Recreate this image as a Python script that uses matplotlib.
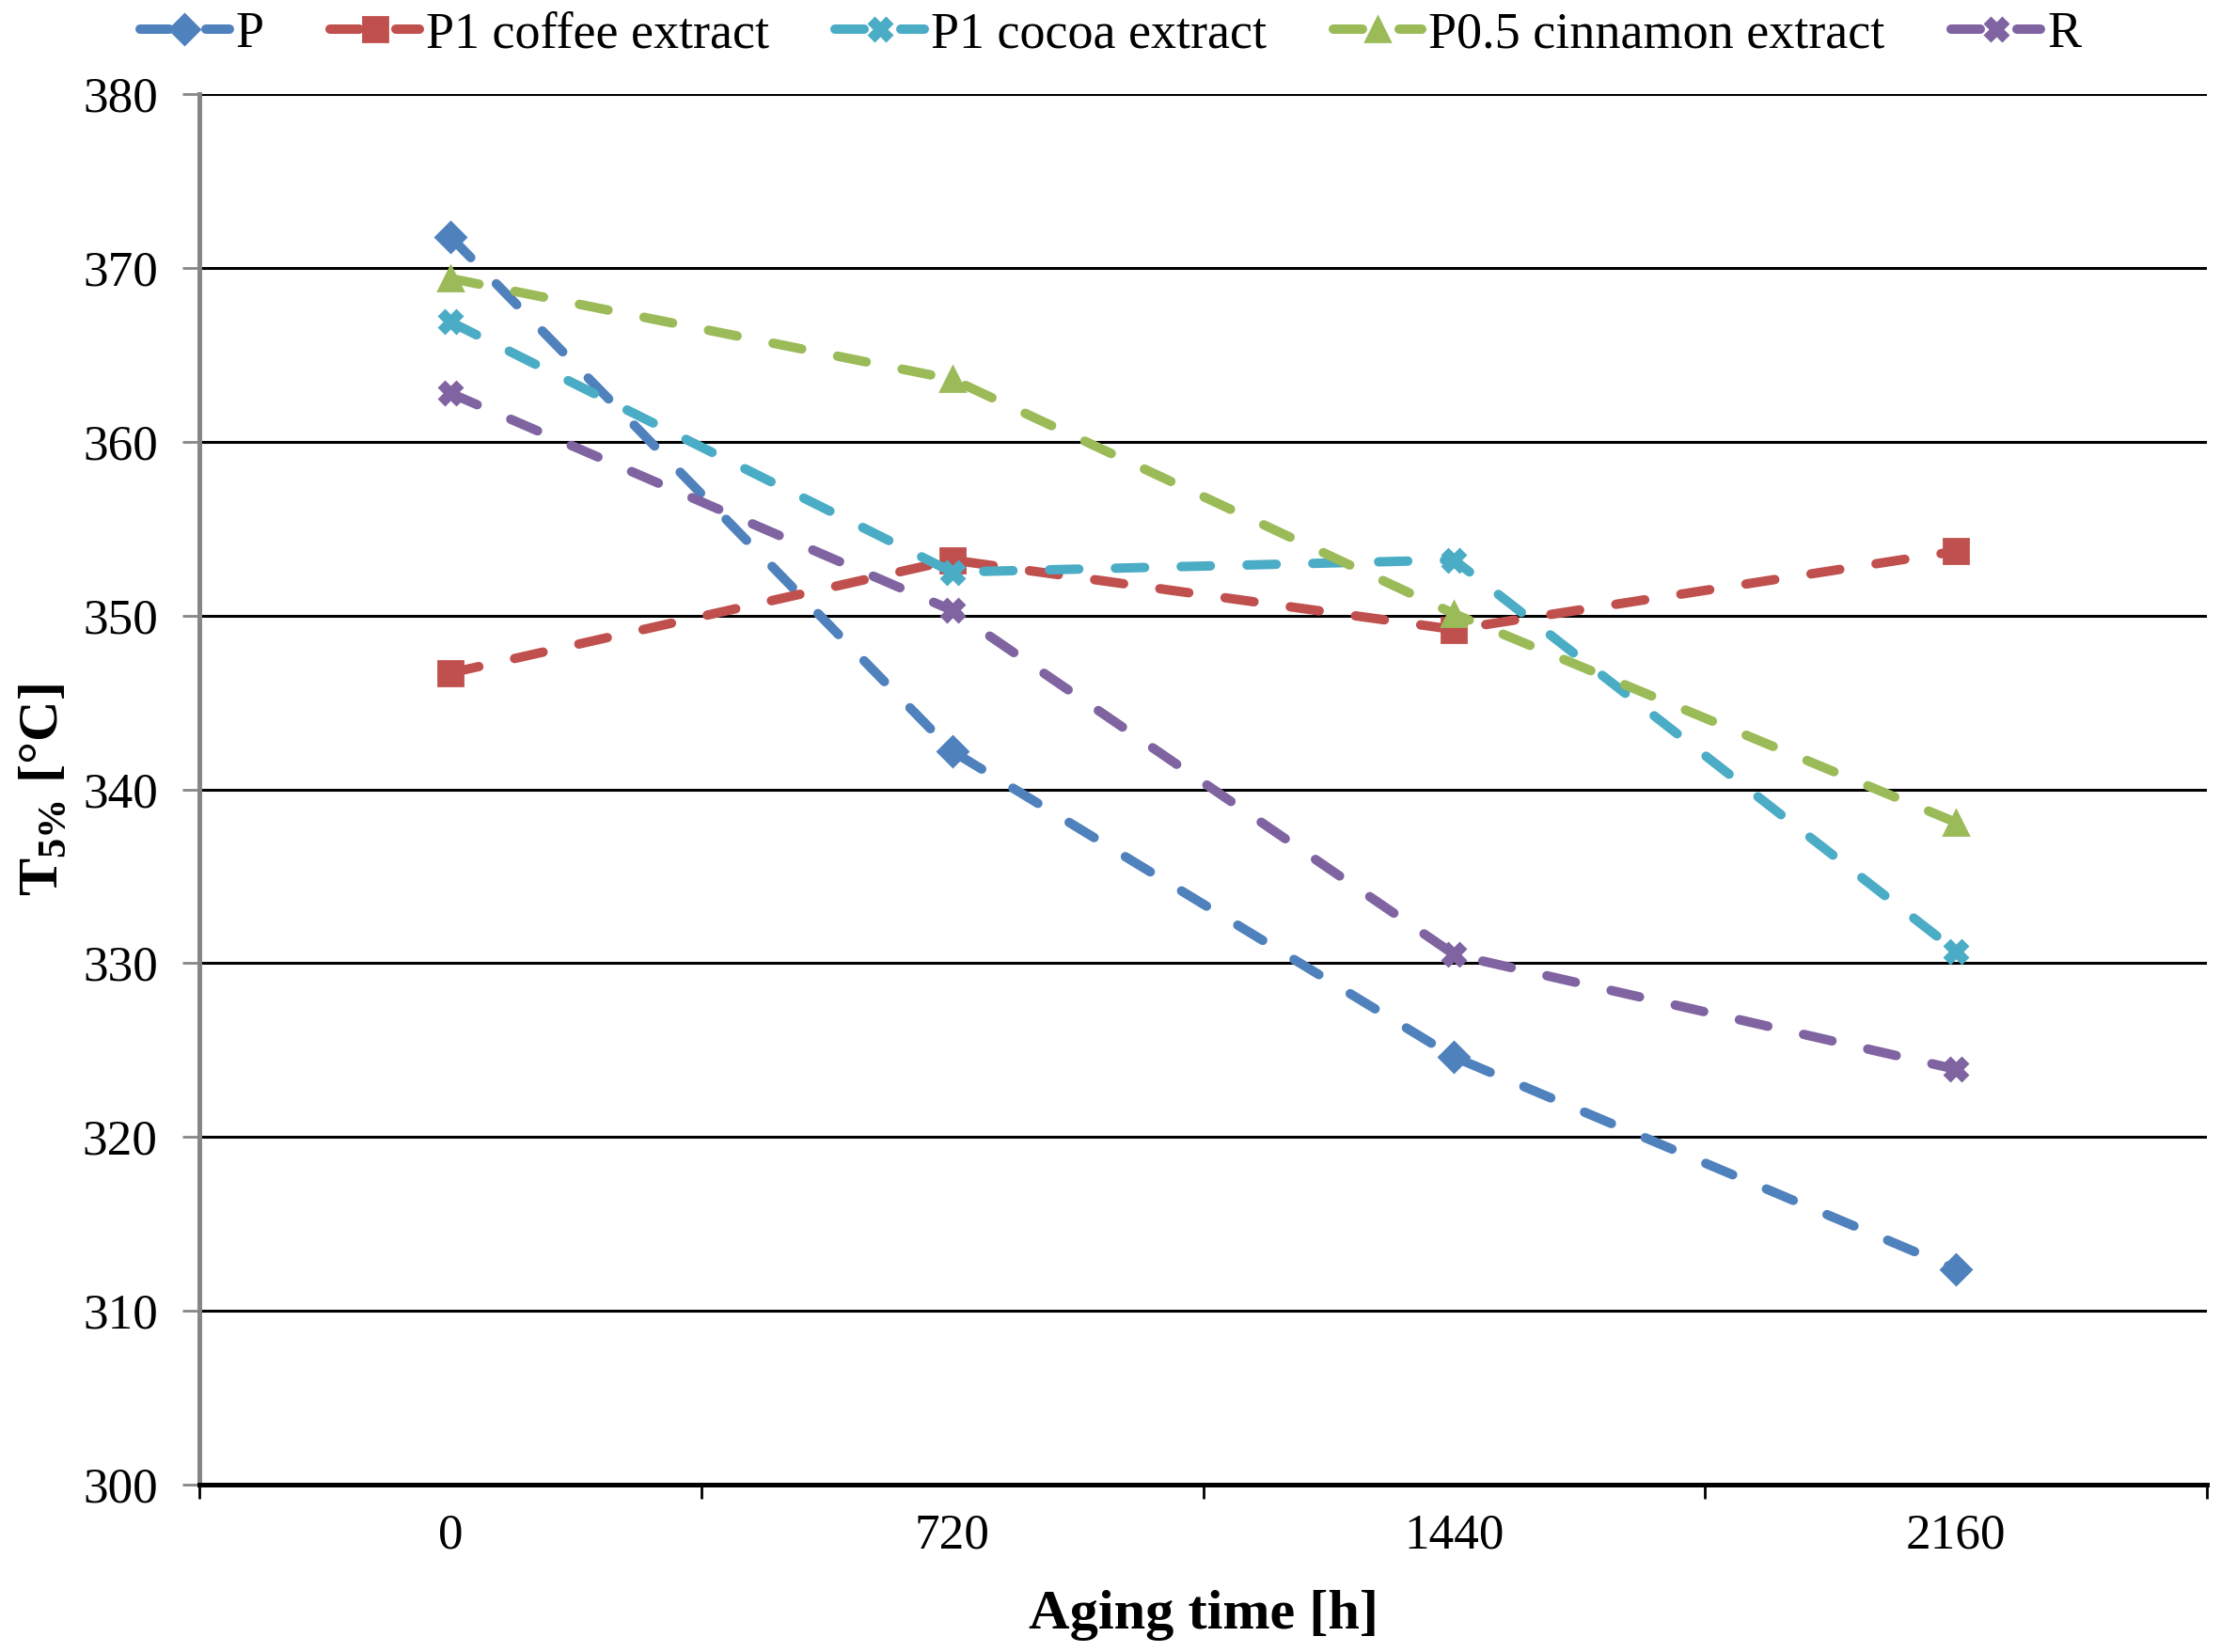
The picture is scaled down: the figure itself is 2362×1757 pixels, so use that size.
import matplotlib
matplotlib.use("Agg")
import matplotlib.pyplot as plt
import numpy as np

plt.rcParams['font.family'] = ['Liberation Serif', 'DejaVu Serif']
plt.rcParams['mathtext.fontset'] = 'custom'
plt.rcParams['mathtext.rm'] = 'Liberation Serif'
plt.rcParams['mathtext.bf'] = 'Liberation Serif:bold'

# data
aging_time = ["0", "720", "1440", "2160"]
series_names = ["P", "P1 coffee extract", "P1 cocoa extract",
                "P0.5 cinnamon extract", "R"]
t5_P = [371.8, 342.2, 324.6, 312.4]
t5_coffee = [346.7, 353.2, 349.2, 353.7]
t5_cocoa = [366.9, 352.5, 353.2, 330.7]
t5_cinnamon = [369.4, 363.6, 350.1, 338.1]
t5_R = [362.8, 350.3, 330.5, 323.9]
y_ticks = [300, 310, 320, 330, 340, 350, 360, 370, 380]

colors = ["#4F81BD", "#C0504D", "#4BACC6", "#9BBB59", "#8064A2"]
markers = ["D", "s", "X", "^", "X"]
msizes = [8, 9.5, 8.5, 9.5, 8.5]

fig = plt.figure(figsize=(11.81, 8.785), dpi=200)
ax = fig.add_axes([0.0898, 0.1013, 0.9039, 0.8417])

x = np.arange(len(aging_time))
all_series = [t5_P, t5_coffee, t5_cocoa, t5_cinnamon, t5_R]
for vals, name, c, m, ms in zip(all_series, series_names, colors, markers, msizes):
	ln, = ax.plot(x, vals, color=c, lw=3.6, marker=m, markersize=ms,
			label=name, zorder=3)
	ln.set_dashes((3.1, 3.9))
	ln.set_dash_capstyle('round')

ax.set_xlim(-0.5, 3.5)
ax.set_ylim(300, 380)
ax.set_yticks(y_ticks)
ax.yaxis.grid(True, color="black", lw=1.1)
ax.set_axisbelow(True)

# category axis: tick marks between categories, labels at centres
ax.set_xticks(np.arange(-0.5, 4.0, 1.0))
ax.set_xticklabels([])
ax.set_xticks(x, minor=True)
ax.set_xticklabels(aging_time, minor=True)
ax.tick_params(axis='x', which='major', length=5.5, width=1.0, color="black", direction='out')
ax.tick_params(axis='x', which='minor', length=0, pad=11, labelsize=19.2)
ax.tick_params(axis='y', length=6.5, width=1.0, color="#868686", pad=9.5, labelsize=19.2)

for s in ["top", "right"]:
	ax.spines[s].set_visible(False)
ax.spines["left"].set_color("#868686")
ax.spines["left"].set_linewidth(1.8)
ax.spines["bottom"].set_color("black")
ax.spines["bottom"].set_linewidth(1.8)

ax.set_xlabel("Aging time [h]", fontsize=21.7, fontweight='bold', labelpad=12)
ax.set_ylabel(r"T$_{\mathbf{5\%}}$ [°C]", fontsize=21.7, fontweight='bold', labelpad=5)

fig.legend(loc='center', bbox_to_anchor=(0.5, 0.979), ncol=5, frameon=False,
	fontsize=19.5, handlelength=1.75, columnspacing=1.3, handletextpad=0.13)

plt.savefig("out.png", dpi=200)
